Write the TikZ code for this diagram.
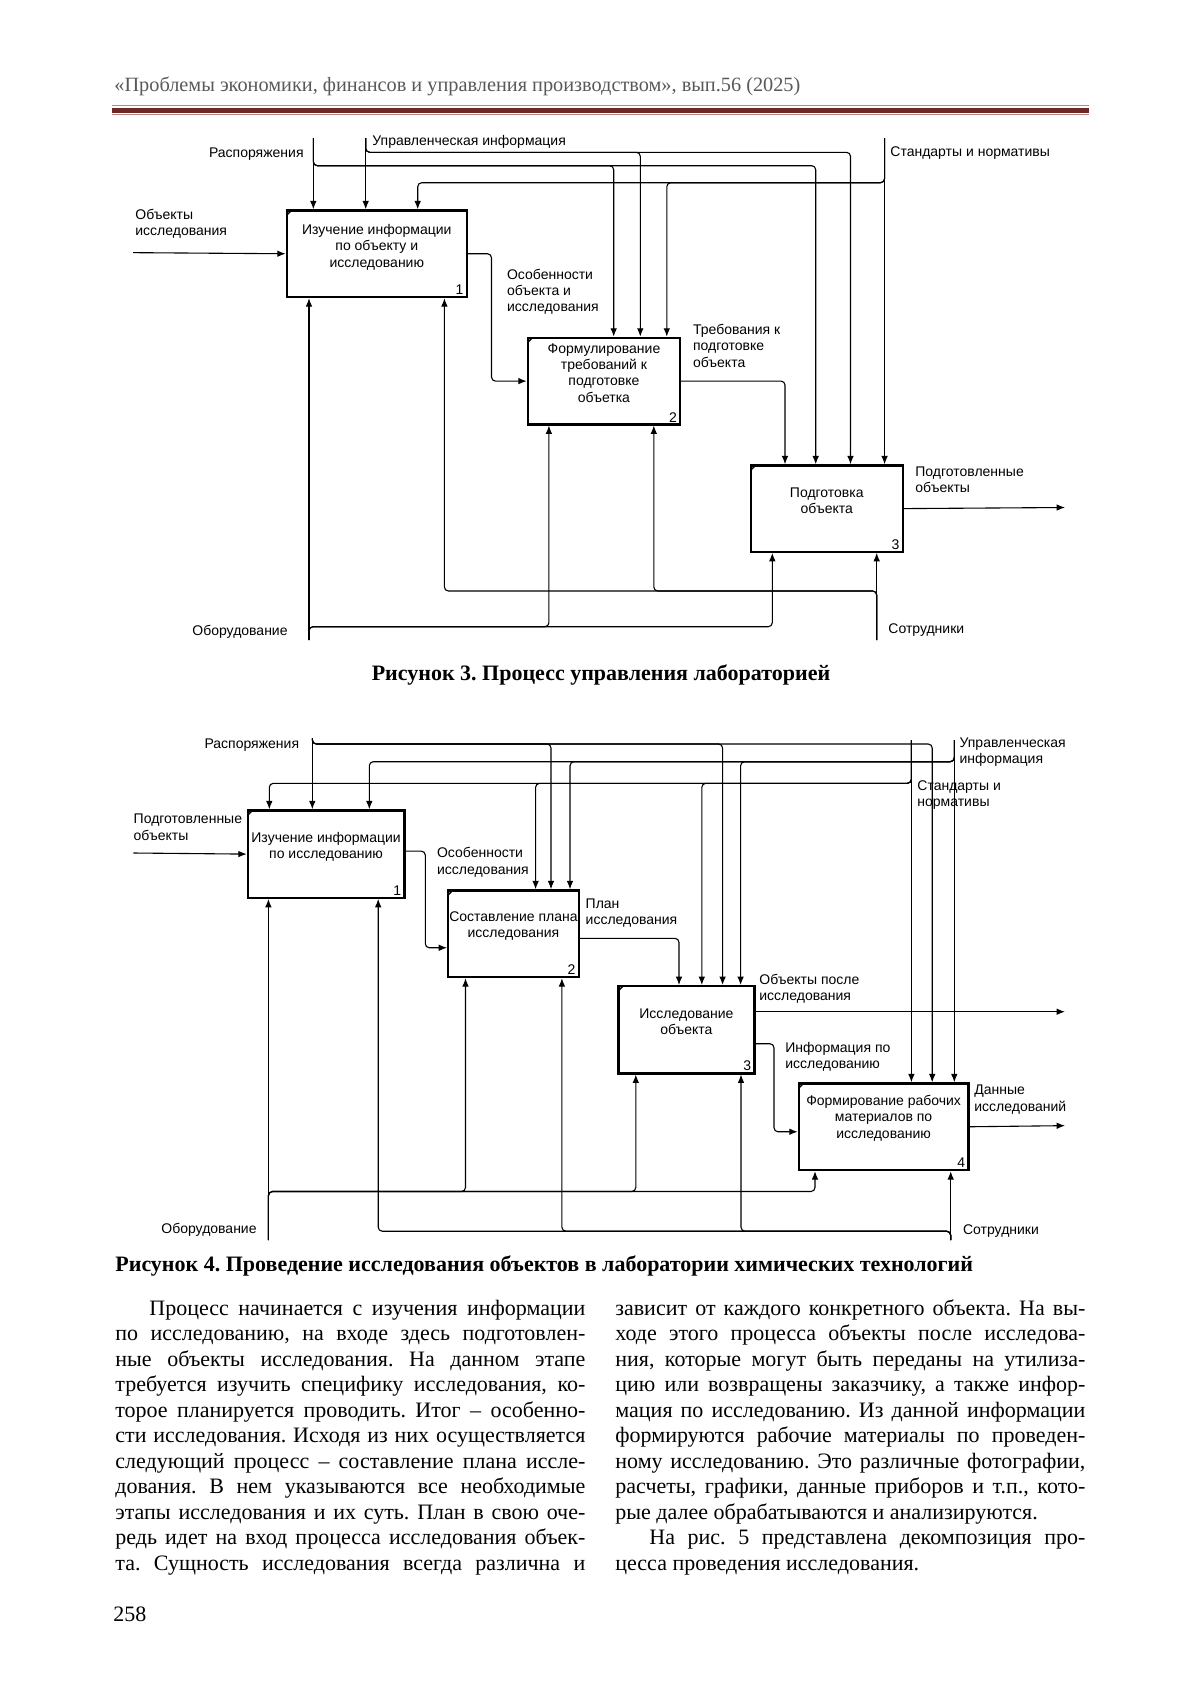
\documentclass[tikz,border=0pt]{standalone}
\usepackage{fontspec}
\usepackage{graphicx}
\setmainfont{Liberation Serif}
\newfontfamily\diagfont{Liberation Sans}
\usetikzlibrary{arrows.meta,positioning}
\definecolor{hdrgray}{gray}{0.35}
\definecolor{rulered}{RGB}{110,40,40}
\definecolor{rulepink}{RGB}{190,130,130}
\newcommand\boxtick[1]{\draw[line width=0.7pt] ([xshift=0.6pt,yshift=-2.8pt]#1.north west) -- ([xshift=2.8pt,yshift=-0.6pt]#1.north west);}
\frenchspacing

\begin{document}
\begin{tikzpicture}[x=0.5pt, y=-0.5pt,
font=\fontsize{11}{12.75}\selectfont,
box/.style={draw, line width=1.1pt, anchor=north west, inner sep=0pt},
btext/.style={font=\diagfont\fontsize{7}{8.1}\selectfont, align=center, inner sep=0pt},
lbl/.style={font=\diagfont\fontsize{7}{8.1}\selectfont, align=left, inner sep=0pt},
num/.style={font=\diagfont\fontsize{7}{8}\selectfont, anchor=south east, inner sep=0pt},
conn/.style={line width=0.55pt, rounded corners=2pt},
arr/.style={conn, -{Latex[length=4.2pt,width=3.3pt]}},
para/.style={anchor=base west, inner sep=0pt},
]
\useasboundingbox[fill=white] (0,0) rectangle (1200,1697);

% header
\node[anchor=base west, inner sep=0pt, text=hdrgray] (head) at (114,91)
  {\resizebox{343pt}{!}{\fontsize{10}{12}\selectfont «Проблемы экономики, финансов и управления производством», вып.56 (2025)}};
\draw[rulepink, line width=0.6pt] (111.5,105.7) -- (1088.5,105.7);
\fill[rulered] (111.5,107.7) rectangle (1088.5,112.7);
\draw[rulepink, line width=0.6pt] (111.5,114.3) -- (1088.5,114.3);

%% Figure 3
\node[box, minimum width=90pt, minimum height=43.35pt] (b1) at (285.7,209.3) {};
\node[box, minimum width=76.15pt, minimum height=43.3pt] (b2) at (526.7,336.7) {};
\node[box, minimum width=76pt, minimum height=43.2pt] (b3) at (749.7,464.3) {};
\node[btext] (t1) at ([yshift=3.3pt]b1.center) {Изучение информации\\по объекту и\\исследованию};
\node[btext] (t2) at ([yshift=4pt]b2.center) {Формулирование\\требований к\\подготовке\\объетка};
\node[btext] (t3) at ([yshift=4pt]b3.center) {Подготовка\\объекта};
\node[num] (n1) at ([xshift=-2pt,yshift=1.5pt]b1.south east) {1};
\node[num] (n2) at ([xshift=-2pt,yshift=1.5pt]b2.south east) {2};
\node[num] (n3) at ([xshift=-2pt,yshift=1.5pt]b3.south east) {3};
\boxtick{b1} \boxtick{b2} \boxtick{b3}

\coordinate (rasp3) at (313.3,138);
\coordinate (upr3) at (365.7,138);
\coordinate (std3) at (884.6,138);
\coordinate (obj3) at (133,252.65);
\coordinate (obor3) at (309,640);
\coordinate (sotr3) at (876.7,640);
\coordinate (out3) at (1065,507.5);

\node[lbl, anchor=east] (lrasp3) at (304,154) {Распоряжения};
\node[lbl, anchor=west] (lupr3) at (372,142) {Управленческая информация};
\node[lbl, anchor=west] (lstd3) at (890,153) {Стандарты и нормативы};
\node[lbl, anchor=west] (lobj3) at (135,224) {Объекты\\исследования};
\node[lbl, anchor=west] (losob3) at (506.7,292) {Особенности\\объекта и\\исследования};
\node[lbl, anchor=west] (ltreb3) at (692.7,345.8) {Требования к\\подготовке\\объекта};
\node[lbl, anchor=west] (lpodg3) at (915,480) {Подготовленные\\объекты};
\node[lbl, anchor=east] (lobor3) at (288,632) {Оборудование};
\node[lbl, anchor=west] (lsotr3) at (888,630) {Сотрудники};

\draw[arr] (rasp3) -- (rasp3 |- b1.north);
\draw[arr] (rasp3) |- (613.7,165.7) -- (613.7,0 |- b2.north);
\draw[arr] (rasp3) |- (815.7,165.7) -- (815.7,0 |- b3.north);
\draw[arr] (upr3) -- (upr3 |- b1.north);
\draw[arr] (upr3) |- (640.3,152.3) -- (640.3,0 |- b2.north);
\draw[arr] (upr3) |- (850.5,152.3) -- (850.5,0 |- b3.north);
\draw[arr] (std3) -- (std3 |- b3.north);
\draw[arr] (std3) |- (417.7,182.7) -- (417.7,0 |- b1.north);
\draw[arr] (std3) |- (666.8,182.7) -- (666.8,0 |- b2.north);
\draw[arr] (obj3) -- (b1.west);
\draw[arr] (b1.east) -| (491.5,0 |- b2.west) -- (b2.west);
\draw[arr] (b2.east) -| (785,0 |- b3.north);
\draw[arr] (b3.east) -- (out3);
\draw[arr] (obor3) -- (obor3 |- b1.south);
\draw[arr] (obor3) |- (548.9,626.7) -- (548.9,0 |- b2.south);
\draw[arr] (obor3) |- (772.3,626.7) -- (772.3,0 |- b3.south);
\draw[arr] (sotr3) -- (sotr3 |- b3.south);
\draw[arr] (sotr3) |- (444.4,591) -- (444.4,0 |- b1.south);
\draw[arr] (sotr3) |- (653.8,591) -- (653.8,0 |- b2.south);

\node[anchor=base, font=\bfseries\fontsize{11}{13}\selectfont] (cap3) at (601,680) {Рисунок 3. Процесс управления лабораторией};

%% Figure 4
\node[box, minimum width=78.3pt, minimum height=43.7pt] (c1) at (246.7,809.3) {};
\node[box, minimum width=65.25pt, minimum height=43.35pt] (c2) at (447.1,889.3) {};
\node[box, minimum width=68pt, minimum height=43.65pt] (c3) at (617.3,985) {};
\node[box, minimum width=84.8pt, minimum height=43.35pt] (c4) at (797.7,1082.3) {};
\node[btext] (s1) at ([yshift=3.8pt]c1.center) {Изучение информации\\по исследованию};
\node[btext] (s2) at ([yshift=4pt]c2.center) {Составление плана\\исследования};
\node[btext] (s3) at ([yshift=4pt]c3.center) {Исследование\\объекта};
\node[btext] (s4) at ([yshift=4.3pt]c4.center) {Формирование рабочих\\материалов по\\исследованию};
\node[num] (m1) at ([xshift=-2pt,yshift=1.5pt]c1.south east) {1};
\node[num] (m2) at ([xshift=-2pt,yshift=1.5pt]c2.south east) {2};
\node[num] (m3) at ([xshift=-2pt,yshift=1.5pt]c3.south east) {3};
\node[num] (m4) at ([xshift=-2pt,yshift=1.5pt]c4.south east) {4};
\boxtick{c1} \boxtick{c2} \boxtick{c3} \boxtick{c4}

\coordinate (rasp4) at (312.3,738.3);
\coordinate (upr4) at (954.3,740);
\coordinate (std4) at (911.4,740);
\coordinate (inp4) at (133.3,853);
\coordinate (in2) at ([yshift=-7pt]c2.west);
\coordinate (in4) at ([yshift=-2.5pt]c4.west);
\coordinate (obor4) at (268.4,1240);
\coordinate (sotr4) at (950.7,1240);
\coordinate (out4a) at (1065,1011.7);
\coordinate (out4b) at (1065,1125.65);

\node[lbl, anchor=east] (lrasp4) at (299.5,745) {Распоряжения};
\node[lbl, anchor=west] (lupr4) at (959.2,752) {Управленческая\\информация};
\node[lbl, anchor=west] (lstd4) at (917,794.7) {Стандарты и\\нормативы};
\node[lbl, anchor=west] (linp4) at (133.3,827.3) {Подготовленные\\объекты};
\node[lbl, anchor=west] (losob4) at (436.7,862.2) {Особенности\\исследования};
\node[lbl, anchor=west] (lplan4) at (585.3,913.3) {План\\исследования};
\node[lbl, anchor=west] (lobj4) at (759,988.7) {Объекты после\\исследования};
\node[lbl, anchor=west] (linf4) at (785,1056.8) {Информация по\\исследованию};
\node[lbl, anchor=west] (ldat4) at (974,1099.5) {Данные\\исследований};
\node[lbl, anchor=east] (lobor4) at (257,1230) {Оборудование};
\node[lbl, anchor=west] (lsotr4) at (962.7,1230.7) {Сотрудники};

\draw[arr] (rasp4) -- (rasp4 |- c1.north);
\draw[arr] (rasp4) |- (551,744) -- (551,0 |- c2.north);
\draw[arr] (rasp4) |- (722.6,744) -- (722.6,0 |- c3.north);
\draw[arr] (rasp4) |- (932.2,744) -- (932.2,0 |- c4.north);
\draw[arr] (upr4) -- (upr4 |- c4.north);
\draw[arr] (upr4) |- (369.3,761.7) -- (369.3,0 |- c1.north);
\draw[arr] (upr4) |- (570,761.7) -- (570,0 |- c2.north);
\draw[arr] (upr4) |- (740.6,761.7) -- (740.6,0 |- c3.north);
\draw[arr] (std4) -- (std4 |- c4.north);
\draw[arr] (std4) |- (269.3,783.3) -- (269.3,0 |- c1.north);
\draw[arr] (std4) |- (535.6,783.3) -- (535.6,0 |- c2.north);
\draw[arr] (std4) |- (701.8,783.3) -- (701.8,0 |- c3.north);
\draw[arr] (inp4) -- (c1.west);
\draw[arr] ([yshift=1.5pt]c1.east) -| (425.3,0 |- in2) -- (in2);
\draw[arr] ([yshift=-2.3pt]c2.east) -| (679,0 |- c3.north);
\draw[arr] (c3.east |- out4a) -- (out4a);
\draw[arr] ([yshift=-7pt]c3.east) -| (774,0 |- in4) -- (in4);
\draw[arr] (c4.east) -- (out4b);
\draw[arr] (obor4) -- (obor4 |- c1.south);
\draw[arr] (obor4) |- (465.5,1191.5) -- (465.5,0 |- c2.south);
\draw[arr] (obor4) |- (635.8,1191.5) -- (635.8,0 |- c3.south);
\draw[arr] (obor4) |- (815,1191.5) -- (815,0 |- c4.south);
\draw[arr] (sotr4) -- (sotr4 |- c4.south);
\draw[arr] (sotr4) |- (378.2,1231.2) -- (378.2,0 |- c1.south);
\draw[arr] (sotr4) |- (561.9,1231.2) -- (561.9,0 |- c2.south);
\draw[arr] (sotr4) |- (741,1231.2) -- (741,0 |- c3.south);

\node[anchor=base west, inner sep=0pt, font=\bfseries\fontsize{11}{13}\selectfont] (cap4) at (115,1271) {Рисунок 4. Проведение исследования объектов в лаборатории химических технологий};

% body text
\foreach \t [count=\i from 0] in {
  {\hspace*{17pt}Процесс начинается с изучения информации},
  {по исследованию, на входе здесь подготовлен-},
  {ные объекты исследования. На данном этапе},
  {требуется изучить специфику исследования, ко-},
  {торое планируется проводить. Итог – особенно-},
  {сти исследования. Исходя из них осуществляется},
  {следующий процесс – составление плана иссле-},
  {дования. В нем указываются все необходимые},
  {этапы исследования и их суть. План в свою оче-},
  {редь идет на вход процесса исследования объек-},
  {та. Сущность исследования всегда различна и}}
  \node[para] (left\i) at (115,1315+25.5*\i) {\makebox[235pt][s]{\t}};
\foreach \t [count=\i from 0] in {
  {зависит от каждого конкретного объекта. На вы-},
  {ходе этого процесса объекты после исследова-},
  {ния, которые могут быть переданы на утилиза-},
  {цию или возвращены заказчику, а также инфор-},
  {мация по исследованию. Из данной информации},
  {формируются рабочие материалы по проведен-},
  {ному исследованию. Это различные фотографии,},
  {расчеты, графики, данные приборов и т.п., кото-}}
  \node[para] (right\i) at (615,1315+25.5*\i) {\makebox[235pt][s]{\t}};
\node[para] (right8) at (615,1519) {рые далее обрабатываются и анализируются.};
\node[para] (right9) at (615,1544.5) {\makebox[235pt][s]{\hspace*{17pt}На рис. 5 представлена декомпозиция про-}};
\node[para] (right10) at (615,1570) {цесса проведения исследования.};

\node[para] (pnum) at (113,1621) {258};
\end{tikzpicture}
\end{document}
